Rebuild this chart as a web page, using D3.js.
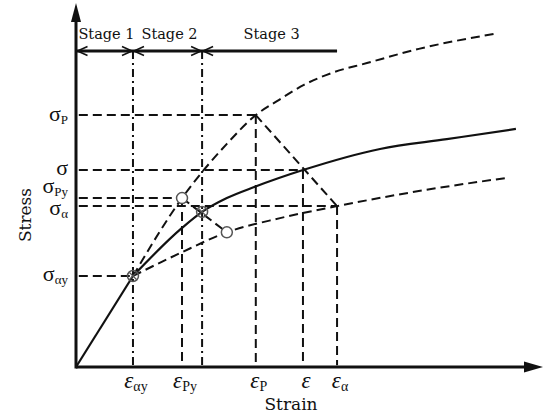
<!DOCTYPE html>
<meta charset="utf-8">
<script src="https://d3js.org/d3.v7.min.js"></script>
<style>
  body { margin: 0; background: white; }
  text { font-family: "DejaVu Serif", serif; fill: #111; }
  text.greek { font-family: "Liberation Serif", serif; }
</style>
<div id="my_dataviz"></div>
<script>
// schematic units: strain and stress both run 0..100
const strainNames = ["αy", "Py", "P", "", "α"];
const strainValues = [12.2, 22.7, 38.5, 48.6, 55.9];
const stressNames = ["αy", "Py", "α", "", "P"];
const stressValues = [25.0, 46.4, 44.2, 54.1, 69.2];

// solid curve (first segment is the straight elastic part)
const solidStrain = [0, 12.2, 22.7, 27.0, 32.3, 38.3, 48.6, 65.1, 79.4, 94.2];
const solidStress = [0, 25.0, 38.2, 42.6, 46.4, 49.5, 54.1, 59.9, 62.6, 65.4];
// upper dashed curve
const upperStrain = [12.2, 22.7, 32.3, 38.5, 43.5, 48.8, 54.8, 62.3, 73.4, 89.5];
const upperStress = [25.0, 46.4, 61.3, 69.2, 73.4, 77.5, 80.8, 83.5, 87.4, 91.5];
// lower dashed curve
const lowerStrain = [12.2, 22.3, 32.3, 43.7, 55.9, 73.7, 91.9];
const lowerStress = [25.0, 31.3, 37.0, 40.9, 44.2, 48.4, 51.9];

// circle markers
const markerStrain = [12.2, 22.7, 27.0, 32.3];
const markerStress = [25.0, 46.4, 42.6, 37.0];
const markerCross = [true, false, true, false];

// stages
const stageNames = ["Stage 1", "Stage 2", "Stage 3"];
const stageBounds = [0, 12.2, 27.0, 55.9];
const stageLevel = 86.8;

const width = 545, height = 413;

const x = d3.scaleLinear().domain([0, 100]).range([76, 543]);
const y = d3.scaleLinear().domain([0, 100]).range([367, 3]);

const svg = d3.select("#my_dataviz")
  .append("svg")
    .attr("width", width)
    .attr("height", height);

const ink = "#111";
const dash = "9,5";
const dashDot = "8,4,2,4";

function seg(x1, y1, x2, y2, style) {
  return svg.append("line")
    .attr("x1", x(x1)).attr("y1", y(y1))
    .attr("x2", x(x2)).attr("y2", y(y2))
    .attr("stroke", ink)
    .attr("stroke-width", 2)
    .attr("stroke-dasharray", style);
}

const stressAt = {};
stressNames.forEach((n, i) => stressAt[n] = stressValues[i]);
const strainAt = {};
strainNames.forEach((n, i) => strainAt[n] = strainValues[i]);

// horizontal dashed from the stress axis
stressNames.forEach(n => seg(0.6, stressAt[n], strainAt[n], stressAt[n], dash));

// vertical dashed down to the strain axis
["Py", "P", "", "α"].forEach(n => seg(strainAt[n], stressAt[n], strainAt[n], 0.5, dash));

// stage boundaries (dash-dot)
[stageBounds[1], stageBounds[2]].forEach(v => seg(v, stageLevel, v, 0.5, dashDot));

// diagonals
seg(strainAt["P"], stressAt["P"], strainAt["α"], stressAt["α"], dash);
seg(markerStrain[1], markerStress[1], markerStrain[3], markerStress[3], dash);

// curves
const line = d3.line()
  .x(d => x(d[0]))
  .y(d => y(d[1]))
  .curve(d3.curveMonotoneX);
const straight = d3.line()
  .x(d => x(d[0]))
  .y(d => y(d[1]));

svg.append("path")
  .attr("d", line(upperStrain.map((v, i) => [v, upperStress[i]])))
  .attr("fill", "none").attr("stroke", ink).attr("stroke-width", 2)
  .attr("stroke-dasharray", dash);

svg.append("path")
  .attr("d", line(lowerStrain.map((v, i) => [v, lowerStress[i]])))
  .attr("fill", "none").attr("stroke", ink).attr("stroke-width", 2)
  .attr("stroke-dasharray", dash);

const solidPts = solidStrain.map((v, i) => [v, solidStress[i]]);
svg.append("path")
  .attr("d", straight(solidPts.slice(0, 2)))
  .attr("fill", "none").attr("stroke", ink).attr("stroke-width", 2.2);
svg.append("path")
  .attr("d", line(solidPts.slice(1)))
  .attr("fill", "none").attr("stroke", ink).attr("stroke-width", 2.2);

// markers
markerStrain.forEach((v, i) => {
  const cx = x(v), cy = y(markerStress[i]);
  svg.append("circle")
    .attr("cx", cx).attr("cy", cy).attr("r", 5.5)
    .attr("fill", markerCross[i] ? "none" : "white")
    .attr("stroke", "#555").attr("stroke-width", 1.5);
  if (markerCross[i]) {
    svg.append("path")
      .attr("d", `M${cx - 3.5},${cy - 3.5}L${cx + 3.5},${cy + 3.5}M${cx - 3.5},${cy + 3.5}L${cx + 3.5},${cy - 3.5}`)
      .attr("stroke", "#555").attr("stroke-width", 1.2);
  }
});

// stage bar with arrowheads
svg.append("line")
  .attr("x1", x(stageBounds[0])).attr("x2", x(stageBounds[3]))
  .attr("y1", y(stageLevel)).attr("y2", y(stageLevel))
  .attr("stroke", ink).attr("stroke-width", 3);

function head(px, dir) {
  const py = y(stageLevel);
  svg.append("path")
    .attr("d", `M${px - dir * 10},${py - 4.5}L${px},${py}L${px - dir * 10},${py + 4.5}`)
    .attr("fill", "none").attr("stroke", ink).attr("stroke-width", 1.6);
}
head(x(stageBounds[0]) + 1.5, -1);
head(x(stageBounds[1]) - 1, 1);
head(x(stageBounds[1]) + 1, -1);
head(x(stageBounds[2]) - 1, 1);
head(x(stageBounds[2]) + 1, -1);

stageNames.forEach((n, i) => {
  svg.append("text")
    .attr("x", (x(stageBounds[i]) + x(stageBounds[i + 1])) / 2 + 2)
    .attr("y", 39)
    .attr("text-anchor", "middle")
    .attr("font-size", "14.5px")
    .text(n);
});

// axes with arrowheads
svg.append("line")
  .attr("x1", x(0)).attr("y1", y(0)).attr("x2", x(100) - 12).attr("y2", y(0))
  .attr("stroke", ink).attr("stroke-width", 3);
svg.append("path")
  .attr("d", `M${x(100)},${y(0)}L${x(100) - 19},${y(0) - 5.5}L${x(100) - 19},${y(0) + 5.5}Z`)
  .attr("fill", ink);
svg.append("line")
  .attr("x1", x(0)).attr("y1", y(0) + 1.5).attr("x2", x(0)).attr("y2", y(100) + 12)
  .attr("stroke", ink).attr("stroke-width", 3);
svg.append("path")
  .attr("d", `M${x(0)},${y(100)}L${x(0) - 5},${y(100) + 19}L${x(0) + 5},${y(100) + 19}Z`)
  .attr("fill", ink);

// stress labels
const stressDy = {"αy": 5, "Py": -5, "α": 9, "": 5, "P": 6};
stressNames.forEach((n, i) => {
  const t = svg.append("text")
    .attr("class", "greek")
    .attr("x", 68)
    .attr("y", y(stressValues[i]) + stressDy[n])
    .attr("text-anchor", "end")
    .attr("font-size", "22px");
  t.append("tspan").text("σ");
  if (n) t.append("tspan").attr("font-size", "13px").attr("dy", 3).text(n);
});

// strain labels
strainNames.forEach((n, i) => {
  const t = svg.append("text")
    .attr("class", "greek")
    .attr("x", x(strainValues[i]) + 3)
    .attr("y", 388)
    .attr("text-anchor", "middle")
    .attr("font-size", "23px");
  t.append("tspan").attr("font-style", "italic").text("ε");
  if (n) t.append("tspan").attr("font-size", "14px").attr("dy", 3).text(n);
});

// axis titles
svg.append("text")
  .attr("x", 291).attr("y", 410)
  .attr("text-anchor", "middle")
  .attr("font-size", "17px")
  .text("Strain");
svg.append("text")
  .attr("transform", "translate(31,215) rotate(-90)")
  .attr("text-anchor", "middle")
  .attr("font-size", "17px")
  .text("Stress");
</script>
